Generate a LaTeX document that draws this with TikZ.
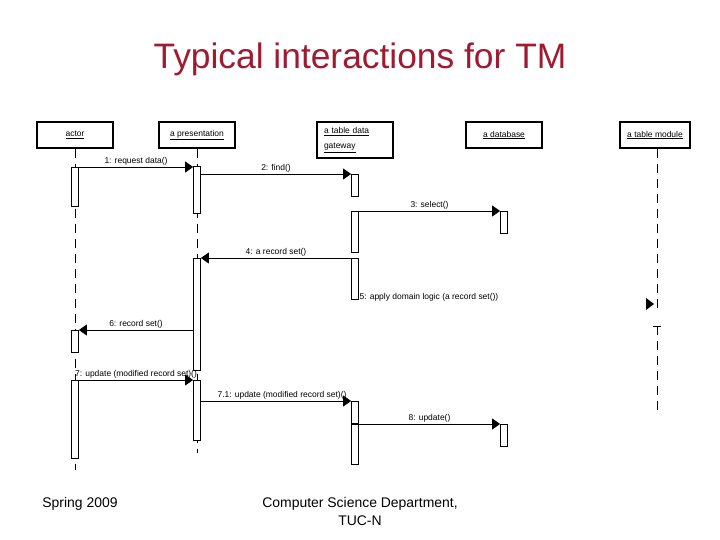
\documentclass[tikz,border=0pt]{standalone}
\usepackage{fontspec}
\setmainfont{Liberation Sans}
\usepackage{tikz}
\usetikzlibrary{arrows.meta,positioning,calc}
\definecolor{tmred}{HTML}{9E1B32}
\tikzset{
  title/.style={font=\fontsize{35.5}{40}\selectfont, text=tmred, inner sep=0pt},
  foot/.style={font=\fontsize{14}{18}\selectfont, align=center, inner sep=0pt},
  obj/.style={draw, line width=1.2bp, minimum width=76bp, minimum height=26bp, inner sep=0pt, font=\fontsize{8.5}{15}\selectfont},
  actbar/.style={draw, fill=white, line width=0.8bp, minimum width=7bp, inner sep=0pt, anchor=north},
  life/.style={line width=0.8bp, dash pattern=on 9bp off 6bp},
  msg/.style={-{Triangle[length=8bp,width=11bp]}, line width=0.8bp},
  lbl/.style={font=\fontsize{8.5}{10}\selectfont, inner sep=1.5pt},
}
\begin{document}
\begin{tikzpicture}[x=1bp, y=-1bp]
  \useasboundingbox (0,0) rectangle (720,540);
  % title
  \node[title] (ttl) at (360,59) {Typical interactions for TM};
  % objects
  \node[obj] (actor) at (75,135) {\underline{actor}};
  \node[obj] (pres) at (197,135) {\underline{a presentation}};
  \node[obj, minimum height=36bp, text width=62bp, align=left] (gate) at (355,140) {\underline{a table data}\\\underline{gateway}};
  \node[obj] (db) at (504,135) {\underline{a database}};
  \node[obj, minimum width=70bp] (tmod) at (655,135) {\underline{a table module}};
  % lifelines
  \coordinate (actend) at (75,470);
  \coordinate (presend) at (197,453);
  \coordinate (tmcut) at (657,311);
  \coordinate (tmres) at (657,326);
  \coordinate (tmend) at (657,415);
  \draw[life] (actor.south) -- (actend);
  \draw[life] (pres.south) -- (presend);
  \draw[life] (tmod.south -| tmcut) -- (tmcut);
  \draw[line width=0.8bp] ($(tmres)+(-4,0)$) -- ($(tmres)+(4,0)$);
  \draw[life] (tmres) -- (tmend);
  % activation bars
  \foreach \n/\x/\t/\b in {A1/75/167/206, A2/75/330/352, A3/75/380/458,
      P1/197/166/213, P2/197/258/370, P3/197/380/440,
      G1/355/174/196, G2/355/211/252, G3/355/258/299, G4/355/401/423, G5/355/424/464,
      D1/504/211/233, D2/504/424/446}
    \node[actbar, minimum height={(\b-\t)*1bp}] (a\n) at (\x,\t) {};
  % messages
  \draw[msg] (aA1.north east) -- (aA1.north east -| aP1.west) node[lbl, midway, above] {1: request data()};
  \draw[msg] (aP1.east |- aG1.north) -- (aG1.north west) node[lbl, midway, above] {2: find()};
  \draw[msg] (aG2.north east) -- (aD1.north west) node[lbl, midway, above] {3: select()};
  \draw[msg] (aG3.north west) -- (aG3.north west -| aP2.east) node[lbl, midway, above] {4: a record set()};
  \node[lbl, anchor=west, inner sep=0.5pt] (m5) at ($(aG3.south east)+(0,-2)$) {5: apply domain logic (a record set())};
  \coordinate (m5tip) at (654,304);
  \fill (m5tip) -- ++(-8,-6) -- ++(0,12) -- cycle;
  \draw[msg] (aP2.west |- aA2.north) -- (aA2.north east) node[lbl, midway, above] {6: record set()};
  \draw[msg] (aA3.north east) -- (aP3.north west) node[lbl, midway, above] {7: update (modified record set)()};
  \draw[msg] (aP3.east |- aG4.north) -- (aG4.north west) node[lbl, pos=0.54, above] {7.1: update (modified record set)()};
  \draw[msg] (aG5.north east) -- (aD2.north west) node[lbl, midway, above] {8: update()};
  % footer
  \node[foot] (season) at (80,504) {Spring 2009};
  \node[foot, anchor=north] (dept) at (360,497) {Computer Science Department,\\TUC-N};
\end{tikzpicture}
\end{document}
